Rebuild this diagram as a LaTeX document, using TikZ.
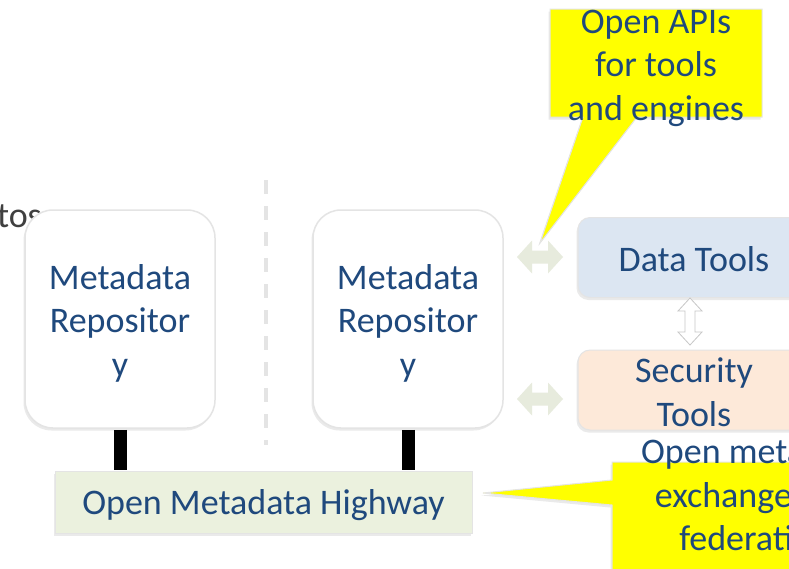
\documentclass[tikz,border=0pt]{standalone}
\usepackage{fontspec}
\setmainfont{Carlito}
\usetikzlibrary{shadows,calc}

\definecolor{txtblue}{RGB}{31,73,125}
\definecolor{hwyfill}{RGB}{235,241,222}
\definecolor{datafill}{RGB}{220,230,242}
\definecolor{secfill}{RGB}{253,233,217}
\definecolor{arrowfill}{RGB}{231,235,221}
\definecolor{calloutyellow}{RGB}{255,255,0}
\definecolor{edgegray}{RGB}{228,228,228}

\tikzset{
  big/.style={font=\fontsize{36}{43.5}\selectfont},
  boxtext/.style={big, text=txtblue, align=center, inner sep=0pt},
  softshadow/.style={drop shadow={shadow xshift=-1.5pt, shadow yshift=-2.5pt, opacity=0.18, fill=black!45}},
  repo/.style={fill=white, draw=edgegray, line width=1.5pt,
    rounded corners=28pt, minimum width=190pt, minimum height=218pt, inner sep=0pt, softshadow},
  toolbox/.style={draw=edgegray, line width=1pt,
    rounded corners=12pt, minimum width=232pt, minimum height=80pt, inner sep=0pt, softshadow},
  hwy/.style={fill=hwyfill, draw=edgegray, line width=1pt,
    minimum width=417pt, minimum height=62pt, inner sep=0pt, softshadow},
  calloutshape/.style={fill=calloutyellow, draw=edgegray, line width=1pt, softshadow},
  link/.style={line width=13pt, draw=black},
  hblock/.pic={
    \fill[arrowfill] (-23,0) -- (-8,-16.5) -- (-8,-6.5) -- (8,-6.5) -- (8,-16.5) -- (23,0)
      -- (8,16.5) -- (8,6.5) -- (-8,6.5) -- (-8,16.5) -- cycle;
  },
  vblock/.pic={
    \filldraw[fill=white, draw=black!22, line width=0.8pt]
      (0,-23.5) -- (12,-10.5) -- (5,-10.5) -- (5,10.5) -- (12,10.5) -- (0,23.5)
      -- (-12,10.5) -- (-5,10.5) -- (-5,-10.5) -- (-12,-10.5) -- cycle;
  }
}

\begin{document}
\begin{tikzpicture}[x=1pt, y=-1pt]
  \useasboundingbox (0,0) rectangle (789,568);
  \clip (0,0) rectangle (789,568);
  \fill[white] (0,0) rectangle (789,568);

  % fragment of a label running off the left edge
  \node[big, text=black!75, anchor=base east, inner sep=0pt] (frag) at (42,227) {tos};

  % dashed divider between the two repositories
  \coordinate (divTop) at (266,180);
  \coordinate (divBot) at (266,445);
  \draw[edgegray, line width=4pt, dash pattern=on 14pt off 12pt] (divTop) -- (divBot);

  % metadata repositories
  \node[repo, label={[boxtext, yshift=-4pt]center:{Metadata\\Repositor\\y}}] (repoL) at (120,319) {};
  \node[repo, label={[boxtext, yshift=-4pt]center:{Metadata\\Repositor\\y}}] (repoR) at (408,319) {};

  % highway
  \node[hwy, label={[boxtext, yshift=-3pt]center:{Open Metadata Highway}}] (hwy) at (263.5,502) {};

  % links from repositories down to the highway
  \draw[link] ($(repoL.south)+(0,1)$) -- ($(repoL.south |- hwy.north)+(0,-1)$);
  \draw[link] ($(repoR.south)+(0,1)$) -- ($(repoR.south |- hwy.north)+(0,-1)$);

  % tools
  \node[toolbox, fill=datafill, label={[boxtext, yshift=-2pt]center:{Data Tools}}] (data) at (694,257.5) {};
  \node[toolbox, fill=secfill, label={[boxtext, yshift=-2pt]center:{Security\\Tools}}] (sec) at (694,390) {};

  % block arrows
  \pic at (540,257) {hblock};
  \pic at (540,399) {hblock};
  \pic at (690,321.5) {vblock};

  % callout: open APIs
  \coordinate (apiTip) at (540,243);
  \path[calloutshape] (550,9) -- (762,9) -- (762,117) -- (637,117) -- (apiTip) -- (583,117)
    -- (550,117) -- cycle;
  \node[boxtext] (apis) at (656,68) {Open APIs\\for tools\\and engines};

  % callout: open metadata exchange
  \coordinate (hwyTip) at (483,493);
  \path[calloutshape] (612,462) -- (820,462) -- (820,600) -- (612,600) -- (612,505) -- (hwyTip)
    -- (612,480) -- cycle;
  \node[boxtext] (xchg) at (755,495) {Open metadata\\exchange and\\federation};
\end{tikzpicture}
\end{document}
